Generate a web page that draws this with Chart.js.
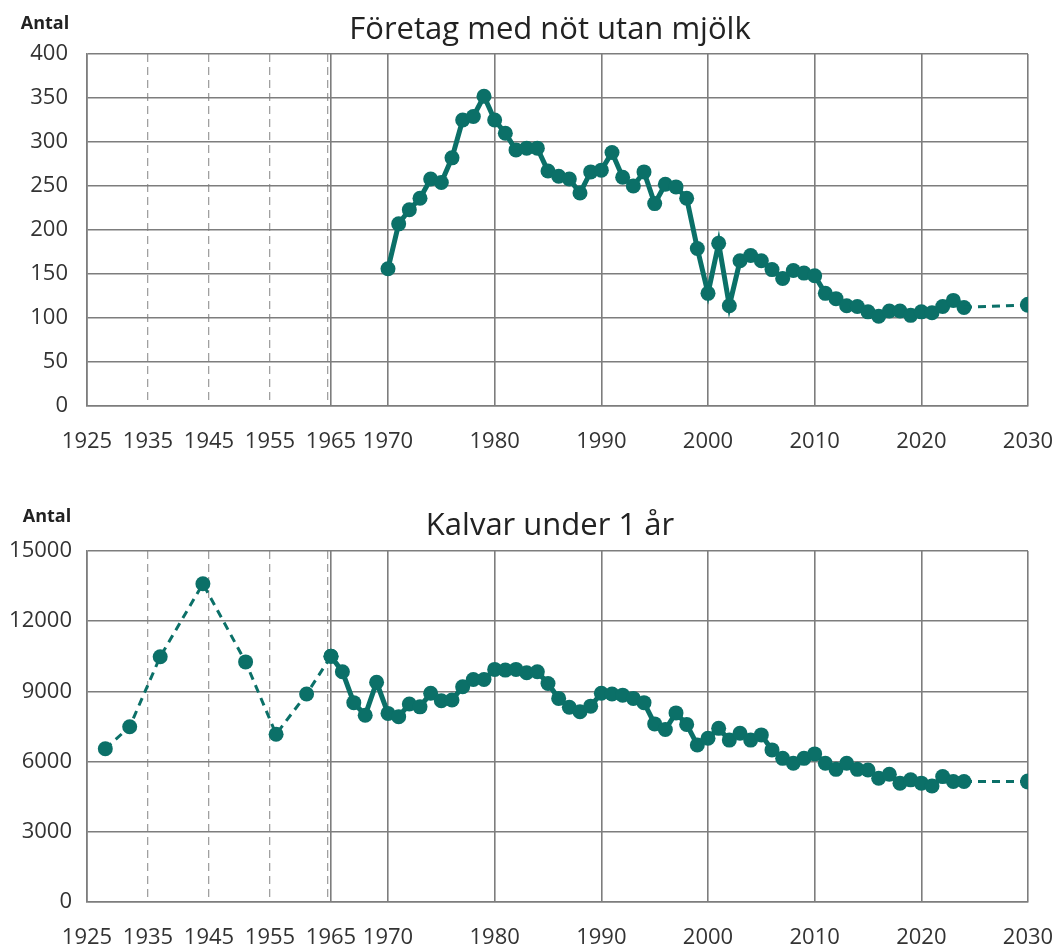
<!DOCTYPE html>
<html>
<head>
<meta charset="utf-8">
<script src="https://cdn.jsdelivr.net/npm/chart.js@4"></script>
<style>
  body { margin: 0; background: #fff; }
  .box { position: absolute; left: 0; width: 1062px; }
</style>
</head>
<body>
<div class="box" style="top:0;height:470px"><canvas id="chartTop"></canvas></div>
<div class="box" style="top:490px;height:457px"><canvas id="chartBottom"></canvas></div>
<script>
// x axis tick labels, and which of them get a dashed grid line
const xTicks = [1925, 1935, 1945, 1955, 1964.5, 1965, 1970, 1980, 1990, 2000, 2010, 2020, 2030];
const dashedTicks = [1935, 1945, 1955, 1964.5];

// Företag med nöt utan mjölk
const foretagYears = [1970, 1971, 1972, 1973, 1974, 1975, 1976, 1977, 1978, 1979,
  1980, 1981, 1982, 1983, 1984, 1985, 1986, 1987, 1988, 1989,
  1990, 1991, 1992, 1993, 1994, 1995, 1996, 1997, 1998, 1999,
  2000, 2001, 2002, 2003, 2004, 2005, 2006, 2007, 2008, 2009,
  2010, 2011, 2012, 2013, 2014, 2015, 2016, 2017, 2018, 2019,
  2020, 2021, 2022, 2023, 2024];
const foretagValues = [156, 207, 223, 236, 258, 254, 282, 325, 329, 352,
  325, 310, 291, 293, 293, 267, 261, 258, 242, 266,
  268, 288, 260, 250, 266, 230, 252, 249, 236, 179,
  128, 185, 114, 165, 171, 165, 155, 145, 154, 151,
  148, 128, 122, 114, 113, 107, 102, 108, 108, 103,
  107, 106, 113, 120, 112];
const foretagProgYears = [2024, 2030];
const foretagProgValues = [112, 115];

// Kalvar under 1 år
const kalvarOldYears = [1928, 1932, 1937, 1944, 1951, 1956, 1961, 1965];
const kalvarOldValues = [6550, 7490, 10480, 13600, 10260, 7170, 8890, 10500];
const kalvarYears = [1965, 1966, 1967, 1968, 1969,
  1970, 1971, 1972, 1973, 1974, 1975, 1976, 1977, 1978, 1979,
  1980, 1981, 1982, 1983, 1984, 1985, 1986, 1987, 1988, 1989,
  1990, 1991, 1992, 1993, 1994, 1995, 1996, 1997, 1998, 1999,
  2000, 2001, 2002, 2003, 2004, 2005, 2006, 2007, 2008, 2009,
  2010, 2011, 2012, 2013, 2014, 2015, 2016, 2017, 2018, 2019,
  2020, 2021, 2022, 2023, 2024];
const kalvarValues = [10500, 9840, 8520, 7980, 9390,
  8060, 7920, 8460, 8340, 8920, 8600, 8630, 9200, 9510, 9510,
  9940, 9910, 9940, 9800, 9840, 9340, 8700, 8320, 8130, 8370,
  8920, 8890, 8840, 8700, 8520, 7610, 7370, 8080, 7590, 6710,
  7000, 7420, 6920, 7210, 6920, 7140, 6500, 6140, 5930, 6140,
  6330, 5930, 5670, 5930, 5670, 5640, 5290, 5460, 5080, 5220,
  5080, 4960, 5360, 5150, 5150];
const kalvarProgYears = [2024, 2030];
const kalvarProgValues = [5150, 5150];

const green = '#0b7068';
const gridGrey = '#7d7d7d';
const dashGrey = '#a0a0a0';

// the year axis is squeezed before 1965, so it is linear piece by piece
const axisBreaks = [[1925, 0], [1965, 244], [1970, 301], [2030, 941]];
function yearToDecimal(year) {
  const total = axisBreaks[axisBreaks.length - 1][1];
  for (let i = 1; i < axisBreaks.length; i++) {
    const [y0, p0] = axisBreaks[i - 1];
    const [y1, p1] = axisBreaks[i];
    if (year <= y1 || i === axisBreaks.length - 1) {
      return (p0 + (year - y0) / (y1 - y0) * (p1 - p0)) / total;
    }
  }
}
class BrokenYearScale extends Chart.LinearScale {
  getPixelForValue(value) {
    return this.getPixelForDecimal(yearToDecimal(value));
  }
}
BrokenYearScale.id = 'brokenYear';
BrokenYearScale.defaults = Chart.LinearScale.defaults;
Chart.register(BrokenYearScale);

Chart.defaults.font.family = "'Open Sans', sans-serif";
Chart.defaults.color = '#333';
Chart.defaults.animation = false;

// heading and unit label
const headings = {
  id: 'headings',
  afterDraw(chart, args, opts) {
    const ctx = chart.ctx;
    ctx.save();
    ctx.fillStyle = '#222';
    ctx.textAlign = 'center';
    ctx.textBaseline = 'alphabetic';
    ctx.font = "31px 'Open Sans'";
    ctx.fillText(opts.title, 550, opts.titleY);
    ctx.font = "bold 18px 'Open Sans'";
    ctx.fillText('Antal', opts.unitX, opts.unitY);
    ctx.restore();
  }
};

function pts(years, values) {
  return years.map((y, i) => ({ x: y, y: values[i] }));
}

function isDashed(ctx) {
  return ctx.tick !== undefined && dashedTicks.includes(ctx.tick.value);
}

function makeChart(id, cfg) {
  const datasets = [];
  if (cfg.oldYears) {
    datasets.push({
      data: pts(cfg.oldYears, cfg.oldValues),
      borderColor: green, backgroundColor: green,
      borderWidth: 3, borderDash: [8, 6],
      pointRadius: 7.5, pointBorderWidth: 0
    });
  }
  datasets.push({
    data: pts(cfg.progYears, cfg.progValues),
    borderColor: green, backgroundColor: green,
    borderWidth: 3, borderDash: [8, 6],
    pointRadius: [0, 8], pointBorderWidth: 0
  });
  datasets.push({
    data: pts(cfg.years, cfg.values),
    borderColor: green, backgroundColor: green,
    borderWidth: 5, pointRadius: 7.5, pointBorderWidth: 0
  });

  return new Chart(document.getElementById(id), {
    type: 'line',
    data: { datasets: datasets },
    options: {
      responsive: true,
      maintainAspectRatio: false,
      layout: { padding: { top: cfg.top, right: 34, left: 0, bottom: 0 } },
      plugins: {
        legend: { display: false },
        tooltip: { enabled: false },
        headings: { title: cfg.title, titleY: cfg.titleY, unitX: cfg.unitX, unitY: cfg.unitY }
      },
      scales: {
        x: {
          type: 'brokenYear',
          min: 1925,
          max: 2030,
          afterBuildTicks: s => { s.ticks = xTicks.map(v => ({ value: v })); },
          afterFit: s => {
            s.height = cfg.xHeight;
            s.paddingLeft = 0;
            s.paddingRight = 0;
          },
          ticks: {
            autoSkip: false, maxRotation: 0, padding: 23,
            font: { size: 22 }, color: '#333',
            callback: v => (v === 1964.5 ? '' : String(v))
          },
          grid: {
            drawTicks: false,
            color: ctx => (isDashed(ctx) ? dashGrey : gridGrey),
            lineWidth: ctx => (isDashed(ctx) ? 1.3 : 1.6)
          },
          border: {
            color: gridGrey, width: 1.6,
            dash: ctx => (isDashed(ctx) ? [8, 5] : [])
          }
        },
        y: {
          min: 0,
          max: cfg.yMax,
          afterFit: s => { s.width = 87; },
          ticks: {
            stepSize: cfg.yStep, padding: cfg.yPad, font: { size: 22 }, color: '#333',
            callback: v => String(v)
          },
          grid: { drawTicks: false, color: gridGrey, lineWidth: 1.6 },
          border: { color: gridGrey, width: 1.6 }
        }
      }
    },
    plugins: [headings]
  });
}

makeChart('chartTop', {
  title: 'Företag med nöt utan mjölk', titleY: 39, unitX: 45, unitY: 29,
  top: 54, xHeight: 64, yMax: 400, yStep: 50, yPad: 19,
  years: foretagYears, values: foretagValues,
  progYears: foretagProgYears, progValues: foretagProgValues
});

makeChart('chartBottom', {
  title: 'Kalvar under 1 år', titleY: 45, unitX: 47, unitY: 32,
  top: 61, xHeight: 45, yMax: 15000, yStep: 3000, yPad: 15,
  years: kalvarYears, values: kalvarValues,
  oldYears: kalvarOldYears, oldValues: kalvarOldValues,
  progYears: kalvarProgYears, progValues: kalvarProgValues
});
</script>
</body>
</html>
